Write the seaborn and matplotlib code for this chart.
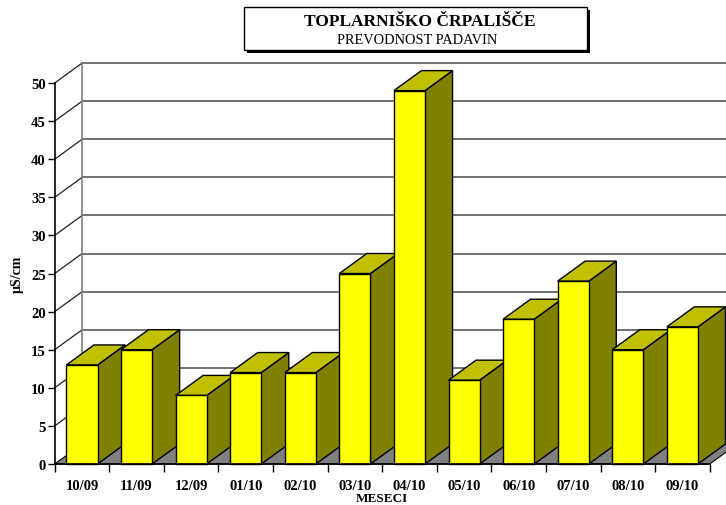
import matplotlib
matplotlib.use("Agg")
import matplotlib.pyplot as plt
import seaborn as sns
import pandas as pd
from matplotlib.patches import Polygon, Rectangle

# ---- data ----
months = ["10/09", "11/09", "12/09", "01/10", "02/10", "03/10",
          "04/10", "05/10", "06/10", "07/10", "08/10", "09/10"]
values = [13, 15, 9, 12, 12, 25, 49, 11, 19, 24, 15, 18]
yticks = [0, 5, 10, 15, 20, 25, 30, 35, 40, 45, 50]
title1 = "TOPLARNIŠKO ČRPALIŠČE"
title2 = "PREVODNOST PADAVIN"
xlabel = "MESECI"
ylabel = "µS/cm"

df = pd.DataFrame({"mesec": months, "vrednost": values})

sns.set_theme(style="white")
plt.rcParams["font.family"] = ["Liberation Serif", "DejaVu Serif"]

W, H = 726, 506
fig = plt.figure(figsize=(W / 100, H / 100), dpi=100)
fig.patch.set_facecolor("white")

# front plotting frame (pixels)
x_left, x_right = 54.7, 709.7
y_bot, y_top = 465, 84
ax = fig.add_axes([x_left / W, (H - y_bot) / H, (x_right - x_left) / W, (y_bot - y_top) / H])
ax.patch.set_visible(False)

FRONT = "#FFFF00"
TOP = "#C0C000"
SIDE = "#808000"
FLOOR = "#808080"

sns.barplot(data=df, x="mesec", y="vrednost", order=months, color=FRONT,
            saturation=1, width=0.57, edgecolor="black", linewidth=1.0, ax=ax)
bars = list(ax.patches)

n = len(months)
ax.set_xlim(-0.5, n - 0.5)
ax.set_ylim(0, 50)

# depth offset: ~28 px right, 20 px up -> data units
fig.canvas.draw()
inv = ax.transData.inverted()
p0 = ax.transData.transform((0, 0))
p1 = inv.transform((p0[0] + 27.5, p0[1] + 20))
dx, dy = p1[0], p1[1]

# back wall gridlines and left wall diagonals
for v in yticks:
    ax.plot([-0.5 + dx, n + 2], [v + dy, v + dy], color="#4a4a4a", lw=1.1,
            zorder=0.5, clip_on=False)
    if v > 0:
        ax.plot([-0.5, -0.5 + dx], [v, v + dy], color="#202020", lw=0.9,
                zorder=0.5, clip_on=False)
ax.plot([-0.5 + dx, -0.5 + dx], [dy, 50 + dy], color="#808080", lw=1.2,
        zorder=0.5, clip_on=False)

# floor
floor = Polygon([(-0.5, 0), (n - 0.5, 0), (n - 0.5 + dx, dy), (-0.5 + dx, dy)],
                closed=True, facecolor=FLOOR, edgecolor="black", lw=0.8,
                zorder=0.8, clip_on=False)
ax.add_patch(floor)

# 3D faces derived from the seaborn bars
for i, b in enumerate(bars):
    x0 = b.get_x()
    x1 = x0 + b.get_width()
    h = b.get_height()
    z = 2 + i * 0.1
    side = Polygon([(x1, 0), (x1 + dx, dy), (x1 + dx, h + dy), (x1, h)],
                   closed=True, facecolor=SIDE, edgecolor="black", lw=1.0,
                   zorder=z, clip_on=False)
    top = Polygon([(x0, h), (x1, h), (x1 + dx, h + dy), (x0 + dx, h + dy)],
                  closed=True, facecolor=TOP, edgecolor="black", lw=1.0,
                  zorder=z, clip_on=False)
    ax.add_patch(side)
    ax.add_patch(top)
    b.set_zorder(z + 0.05)
    b.set_clip_on(False)

# axes styling
for s in ["top", "right"]:
    ax.spines[s].set_visible(False)
for s in ["left", "bottom"]:
    ax.spines[s].set_color("black")
    ax.spines[s].set_linewidth(1.2)
    ax.spines[s].set_zorder(5)
ax.grid(False)

ax.set_yticks(yticks)
ax.set_yticklabels([str(v) for v in yticks])
ax.tick_params(axis="y", which="major", direction="out", length=5, width=1.0,
               color="black", pad=1.5, labelsize=10.5, left=True)
ax.set_xticks(range(n))
ax.set_xticklabels(months)
ax.set_xticks([i - 0.5 for i in range(n + 1)], minor=True)
ax.tick_params(axis="x", which="major", length=0, pad=10.5, labelsize=10.5)
ax.tick_params(axis="x", which="minor", direction="out", length=6, width=1.0,
               color="black", bottom=True)
for lab in ax.get_xticklabels() + ax.get_yticklabels():
    lab.set_fontweight("bold")
    lab.set_color("black")

ax.set_xlabel(xlabel, fontsize=9.5, fontweight="bold", color="black", labelpad=0.3)
ax.set_ylabel(ylabel, fontsize=10, fontweight="bold", color="black", labelpad=5)

# title box with shadow
bx0, bx1, by0, by1 = 244, 587, 8, 51
fig.patches.append(Rectangle(((bx0 + 3) / W, (H - by1 - 3) / H), (bx1 - bx0) / W,
                             (by1 - by0) / H, transform=fig.transFigure,
                             facecolor="black", edgecolor="black", lw=0, zorder=1))
fig.patches.append(Rectangle((bx0 / W, (H - by1) / H), (bx1 - bx0) / W,
                             (by1 - by0) / H, transform=fig.transFigure,
                             facecolor="white", edgecolor="black", lw=1.0, zorder=2))
fig.text(420 / W, (H - 26) / H, title1, ha="center", va="baseline",
         fontsize=12.5, fontweight="bold", color="black", zorder=3)
fig.text(417 / W, (H - 44.3) / H, title2, ha="center", va="baseline",
         fontsize=10.4, color="black", zorder=3)

fig.savefig("out.png", dpi=100)
